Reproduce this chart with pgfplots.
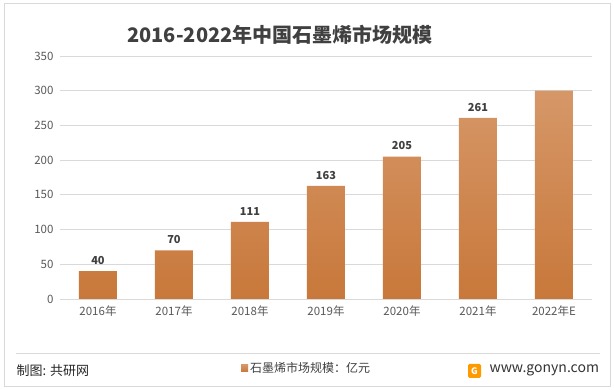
\documentclass[border=0pt]{standalone}
\usepackage{pgfplots}
\pgfplotsset{compat=1.18}
\usepackage{fontspec}
\setmainfont{Noto Sans CJK SC}
\definecolor{tickgray}{HTML}{595959}
\definecolor{gridgray}{HTML}{D9D9D9}
\definecolor{bartop}{HTML}{D69768}
\definecolor{barmid}{HTML}{D98C4E}
\definecolor{barbot}{HTML}{C8783A}
\definecolor{titlegray}{HTML}{404040}
\begin{document}
\begin{tikzpicture}[x=1pt,y=1pt]
\useasboundingbox (0,0) rectangle (614,390);
\fill[white] (0,0) rectangle (614,390);
\draw[gridgray, line width=0.8pt] (4,4) rectangle (610,387);
\draw[gridgray, line width=0.8pt] (16,37) -- (600,37);
\node[font=\fontsize{20}{20}\selectfont\bfseries, text=titlegray] at (280,355) {2016-2022年中国石墨烯市场规模};
\begin{axis}[
  at={(60pt,91pt)}, anchor=south west,
  scale only axis, width=532pt, height=243pt,
  xmin=-0.5, xmax=6.5, ymin=0, ymax=350,
  ytick={0,50,...,350},
  xtick={0,...,6},
  xticklabels={2016年,2017年,2018年,2019年,2020年,2021年,2022年E},
  axis line style={draw=none},
  major tick length=0pt,
  ymajorgrids, grid style={gridgray, line width=0.8pt},
  tick label style={font=\fontsize{11.5}{12}\selectfont, text=tickgray},
  /pgf/number format/assume math mode=true,
  yticklabel style={xshift=-3pt},
  xticklabel style={yshift=-3pt},
  ybar, bar width=38pt,
  clip=false,
  legend style={at={(rel axis cs:0.34,-0.285)}, anchor=west, draw=none, fill=none,
    font=\fontsize{12}{12}\selectfont, text=titlegray, inner sep=0pt},
  legend image code/.code={\fill[barbot] (0pt,-3.5pt) rectangle (7pt,3.5pt);},
]
\addplot[bar shift=0pt, draw=none, top color=bartop, middle color=barmid, bottom color=barbot, shading angle=0]
 coordinates {(0,40) (1,70) (2,111) (3,163) (4,205) (5,261) (6,300)};
\addlegendentry{石墨烯市场规模：亿元}
\addplot[bar shift=0pt, draw=none, fill=none, forget plot,
  nodes near coords, nodes near coords style={font=\fontsize{11}{11}\selectfont\bfseries, text=titlegray, yshift=3pt},
  /pgf/number format/assume math mode=true]
 coordinates {(0,40) (1,70) (2,111) (3,163) (4,205) (5,261)};
\end{axis}
\node[anchor=west, font=\fontsize{13}{13}\selectfont, text=black!85] at (13,19) {制图: 共研网};
\fill[orange!80!yellow, rounded corners=1.5pt] (468,12) rectangle (481,26);
\node[font=\fontsize{9}{9}\selectfont\bfseries, text=white] at (474.5,19) {G};
\node[anchor=west, font=\fontsize{14}{14}\selectfont, text=black!80] at (486,20) {www.gonyn.com};
\end{tikzpicture}
\end{document}
